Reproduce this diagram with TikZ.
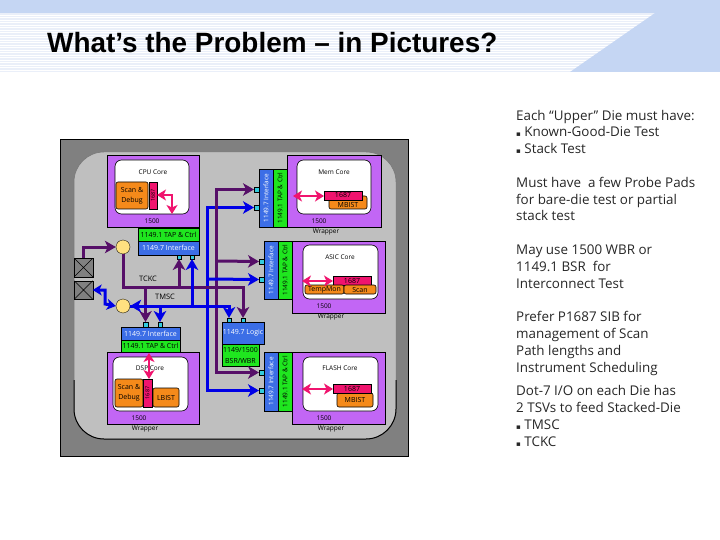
\documentclass[tikz,border=0pt]{standalone}
\usepackage{fontspec}
\usepackage{graphicx}
\setmainfont{Open Sans}
\newfontfamily\titlefont{Liberation Sans}
\newfontfamily\symfont{DejaVu Sans}
\usetikzlibrary{arrows.meta}
\definecolor{band}{HTML}{C5D6F3}
\definecolor{stripe}{HTML}{EAEFF9}
\definecolor{wrapc}{HTML}{C266F5}
\definecolor{greenc}{HTML}{1FE61F}
\definecolor{bluec}{HTML}{3C6EE6}
\definecolor{orangec}{HTML}{F58A1A}
\definecolor{pinkc}{HTML}{F0146E}
\definecolor{purc}{HTML}{560F68}
\definecolor{bluel}{HTML}{0000E6}
\definecolor{padc}{HTML}{33CCDD}
\definecolor{yelc}{HTML}{FFE080}
\newcommand{\bx}[7][]{%
  \pgfmathsetmacro{\cxa}{(#3+#5)/2}\pgfmathsetmacro{\cya}{(#4+#6)/2}%
  \pgfmathsetmacro{\wa}{#5-#3}\pgfmathsetmacro{\ha}{#6-#4}%
  \node[bxs,#1,minimum width=\wa pt,minimum height=\ha pt] (#2) at (\cxa,\cya) {#7};}
\newcommand{\vt}[1]{\rotatebox{90}{\fontsize{6.4}{7}\selectfont #1}}
\tikzset{
  bxs/.style={draw=black,line width=.6pt,inner sep=0pt,outer sep=0pt,font=\fontsize{7}{8}\selectfont,align=center},
  wrapbox/.style={fill=wrapc},
  corebox/.style={fill=white,rounded corners=6.5pt},
  greenbox/.style={fill=greenc,text=black},
  bluebox/.style={fill=bluec,text=white},
  orbox/.style={fill=orangec,rounded corners=2pt},
  pinkbox/.style={fill=pinkc},
  padbox/.style={fill=padc,line width=.3pt},
  crossbox/.style={draw=black,fill=gray,line width=.5pt,inner sep=0pt,outer sep=0pt,minimum size=18.5pt,
    path picture={\draw[black,line width=.5pt] (path picture bounding box.north west) -- (path picture bounding box.south east) (path picture bounding box.north east) -- (path picture bounding box.south west);}},
  lab/.style={inner sep=0pt,font=\fontsize{6.5}{7}\selectfont},
  txt/.style={inner sep=0pt,anchor=west,text height=10pt,text depth=3pt,yshift=-1.6pt,font=\fontsize{13.4}{15}\selectfont,text=black!85},
  yel/.style={circle,draw=black,line width=.3pt,fill=yelc,minimum size=14pt,inner sep=0pt},
  purl/.style={draw=purc,line width=3pt},
  blul/.style={draw=bluel,line width=3pt},
  pinl/.style={draw=pinkc,line width=2.4pt},
  hd/.style={-{Stealth[length=11pt,width=12.5pt,inset=3pt]}},
  hdd/.style={{Stealth[length=9pt,width=11pt,inset=2.5pt]}-{Stealth[length=9pt,width=11pt,inset=2.5pt]}}
}
\begin{document}
\begin{tikzpicture}[x=1pt,y=-1pt]
\useasboundingbox (0,0) rectangle (720,540);
% header
\fill[white] (0,0) rectangle (720,72);
\foreach \yy in {13.5,16,...,71}{\fill[stripe] (0,\yy) rectangle (720,\yy+1.2);}
\fill[band] (0,0) rectangle (720,13) (655,13) -- (720,13) -- (720,72) -- (570,72) -- cycle;
\node[inner sep=0pt,anchor=base west,font=\titlefont\bfseries\fontsize{27.9}{32}\selectfont] (title) at (47,53) {What’s the Problem – in Pictures?};
% chip
\draw[draw=black,fill=gray,line width=.7pt] (60,139) rectangle (408,456);
\draw[draw=black!55,fill=black!25,line width=.5pt,rounded corners=30pt] (74,152) rectangle (396,439);
\draw[draw=black,line width=1pt,rounded corners=30pt] (74,380) -- (74,439) -- (396,439) -- (396,380);
% CPU
\bx[wrapbox]{cpuW}{107}{155}{199}{227}{}
\bx[corebox]{cpuC}{115}{160}{189}{214}{}
\bx[orbox]{cpuS}{116}{182}{148}{209}{Scan \&\\[2pt]Debug}
\bx[pinkbox]{cpuP}{149}{182}{157}{209}{\rotatebox{90}{\fontsize{5.5}{6}\selectfont 1687}}
\node[lab] (cpuL) at (153,172) {CPU Core};
\node[lab] (cpuN) at (152,221) {1500};
\coordinate (cpuA) at (172,195);
\draw[pinl,hdd] (cpuP.east |- cpuA) -- (cpuA) -- (cpuC.south -| cpuA);
\bx[greenbox]{cpuG}{138}{228}{199}{241}{1149.1 TAP \& Ctrl}
\bx[bluebox]{cpuB}{138}{241}{199}{255}{1149.7 Interface}
\bx[padbox]{cpuPa}{177}{255}{181}{259}{}
\bx[padbox]{cpuPb}{190}{255}{194}{259}{}
% Mem
\bx[wrapbox]{memW}{287}{155}{381}{227}{}
\bx[corebox]{memC}{297}{160}{371}{214}{}
\bx[orbox]{memO}{329}{196}{367}{209}{}
\bx[pinkbox]{memP}{324}{191}{362}{200}{1687}
\node[lab,font=\fontsize{7}{8}\selectfont] (memT) at (348,204.5) {MBIST};
\bx[bluebox]{memB}{259}{169}{273}{227}{\vt{1149.7 Interface}}
\bx[greenbox]{memG}{273}{169}{287}{227}{\vt{1149.1 TAP \& Ctrl}}
\bx[padbox]{memPa}{254}{187}{259}{192}{}
\bx[padbox]{memPb}{254}{205}{259}{210}{}
\node[lab] (memL) at (334,172) {Mem Core};
\node[lab] (memN) at (319,221) {1500};
\node[lab] (memR) at (326,232) {Wrapper};
\coordinate (memA) at (293,196);
\draw[pinl,hdd] (memA) -- (memP.west |- memA);
% ASIC
\bx[wrapbox]{asW}{292}{241}{385}{313}{}
\bx[corebox]{asC}{303}{245}{378}{299}{}
\bx[pinkbox]{asP}{333}{276}{371}{285}{1687}
\bx[orbox]{asT}{305}{285}{344}{294}{TempMon}
\bx[orbox]{asS}{344}{285}{376}{294}{Scan}
\bx[bluebox]{asB}{264}{241}{278}{299}{\vt{1149.7 Interface}}
\bx[greenbox]{asG}{278}{241}{292}{299}{\vt{1149.1 TAP \& Ctrl}}
\bx[padbox]{asPa}{259}{259}{264}{264}{}
\bx[padbox]{asPb}{259}{277}{264}{282}{}
\node[lab] (asL) at (340,257) {ASIC Core};
\node[lab] (asN) at (324,306) {1500};
\node[lab] (asR) at (331,317) {Wrapper};
\coordinate (asA) at (302,281);
\draw[pinl,hdd] (asA) -- (asP.west |- asA);
% FLASH
\bx[wrapbox]{flW}{292}{352}{385}{424}{}
\bx[corebox]{flC}{303}{357}{378}{411}{}
\bx[orbox]{flO}{337}{393}{373}{407}{MBIST}
\bx[pinkbox]{flP}{333}{384}{371}{393}{1687}
\bx[bluebox]{flB}{264}{352}{278}{411}{\vt{1149.7 Interface}}
\bx[greenbox]{flG}{278}{352}{292}{411}{\vt{1149.1 TAP \& Ctrl}}
\bx[padbox]{flPa}{259}{370}{264}{375}{}
\bx[padbox]{flPb}{259}{388}{264}{393}{}
\node[lab] (flL) at (340,368) {FLASH Core};
\node[lab] (flN) at (324,418) {1500};
\node[lab] (flR) at (331,429) {Wrapper};
\coordinate (flA) at (302,389);
\draw[pinl,hdd] (flA) -- (flP.west |- flA);
% Logic
\bx[bluebox]{logB}{222}{322}{264}{344}{1149.7 Logic}
\bx[greenbox]{logG}{222}{344}{259}{366}{1149/1500\\[3pt]BSR/WBR}
\bx[padbox]{logPa}{227}{318}{231}{322}{}
\bx[padbox]{logPb}{241}{318}{245}{322}{}
% DSP
\bx[wrapbox]{dsW}{107}{352}{199}{424}{}
\bx[corebox]{dsC}{113}{357}{188}{411}{}
\bx[orbox]{dsS}{115}{379}{143}{407}{Scan \&\\[2pt]Debug}
\bx[pinkbox]{dsP}{143}{379}{152}{407}{\rotatebox{90}{\fontsize{5.5}{6}\selectfont 1687}}
\bx[orbox]{dsL}{153}{388}{179}{407}{LBIST}
\bx[bluebox]{dsB}{121}{327}{180}{340}{1149.7 Interface}
\bx[greenbox]{dsG}{121}{340}{180}{352}{1149.1 TAP \& Ctrl}
\bx[padbox]{dsPa}{143}{322}{148}{327}{}
\bx[padbox]{dsPb}{158}{322}{162}{327}{}
\node[lab] (dsT) at (150,368) {DSP Core};
\node[lab] (dsN) at (139,418) {1500};
\node[lab] (dsR) at (145,429) {Wrapper};
\coordinate (dsA) at (149,353);
\draw[pinl,hdd] (dsA) -- (dsP.north -| dsA);
% I/O
\node[crossbox] (ioA) at (83.5,267.5) {};
\node[crossbox] (ioB) at (83.5,290) {};
\node[yel] (yA) at (123,247) {};
\node[yel] (yB) at (123,306) {};
% connector junctions
\coordinate (tck) at (123,287);
\coordinate (tckE) at (243,287);
\coordinate (tms) at (229,306);
\coordinate (vB) at (207.5,279);
\coordinate (vP) at (216,261);
\coordinate (ziz) at (105,290);
% long verticals
\draw[blul,hd] (207.5,306) |- (memPb.west);
\draw[blul,hd] (207.5,306) |- (flPb.west);
\draw[purl,hd] (216,287) |- (memPa.west);
\draw[purl,hd] (216,287) |- (flPa.west);
\draw[purl,hd] (vP) -- (asPa.west);
% TCKC tree
\draw[purl,hd] (ioA.north) |- (yA.west);
\draw[purl,hd] (yA.south) -- (tck) -- (tckE) -- (logPb.north -| tckE);
\draw[purl,hd] (cpuPa.south |- tck) -- (cpuPa.south);
\draw[purl,hd] (dsPa.north |- tck) -- (dsPa.north);
% TMSC tree
\draw[blul,hd] (vB) -- (asPb.west);
\draw[blul,hd] (tms) -- (yB.east);
\draw[blul,hd] (yB.east) -- (tms) -- (logPa.north);
\draw[blul,hd] (cpuPb.south |- tms) -- (cpuPb.south);
\draw[blul,hd] (dsPb.north |- tms) -- (dsPb.north);
\draw[blul,hdd] (ioB.east) -- (ziz) -- (105,304) -- (yB.west);
\node[lab,font=\fontsize{7.5}{8}\selectfont] (tckL) at (148,279) {TCKC};
\node[lab,font=\fontsize{7.5}{8}\selectfont] (tmsL) at (165,297) {TMSC};
% side text
\node[txt] (t1) at (516,115) {Each “Upper” Die must have:};
\node[txt] (t2) at (516,131) {{\symfont\fontsize{7}{8}\selectfont ▪} Known-Good-Die Test};
\node[txt] (t3) at (516,148) {{\symfont\fontsize{7}{8}\selectfont ▪} Stack Test};
\node[txt] (t4) at (516,182) {Must have\ \ a few Probe Pads};
\node[txt] (t5) at (516,199) {for bare-die test or partial};
\node[txt] (t6) at (516,215) {stack test};
\node[txt] (t7) at (516,249) {May use 1500 WBR or};
\node[txt] (t8) at (516,266) {1149.1 BSR\ \ for};
\node[txt] (t9) at (516,283) {Interconnect Test};
\node[txt] (t10) at (516,316) {Prefer P1687 SIB for};
\node[txt] (t11) at (516,333) {management of Scan};
\node[txt] (t12) at (516,350) {Path lengths and};
\node[txt] (t13) at (516,367) {Instrument Scheduling};
\node[txt] (t14) at (516,390) {Dot-7 I/O on each Die has};
\node[txt] (t15) at (516,407) {2 TSVs to feed Stacked-Die};
\node[txt] (t16) at (516,424) {{\symfont\fontsize{7}{8}\selectfont ▪} TMSC};
\node[txt] (t17) at (516,441) {{\symfont\fontsize{7}{8}\selectfont ▪} TCKC};
\end{tikzpicture}
\end{document}
